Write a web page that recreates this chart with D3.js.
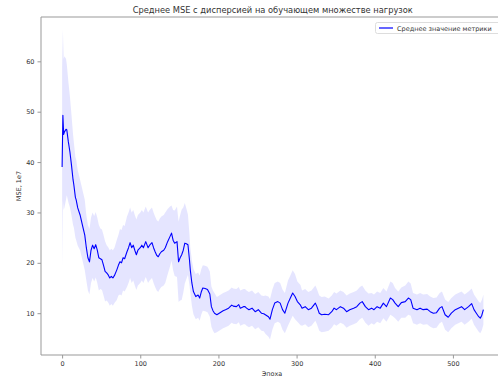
<!DOCTYPE html>
<html>
<head>
<meta charset="utf-8">
<script src="https://cdn.jsdelivr.net/npm/d3@7"></script>
<style>
  body { margin: 0; background: #fff; }
  svg text { font-family: "DejaVu Sans", sans-serif; fill: #333; }
</style>
</head>
<body>
<svg id="chart" width="498" height="381"></svg>
<script>
// epochs sampled along the curve
const epochs = [
  0, 1, 2, 3, 5, 6, 8, 10, 12, 14,
  15, 17, 18, 20, 23, 26, 29, 31, 33, 35,
  37, 39, 41, 43, 45, 47, 49, 51, 53, 55,
  57, 59, 61, 63, 65, 67, 70, 72, 74, 76,
  78, 80, 83, 85, 87, 89, 91, 93, 95, 97,
  100, 102, 104, 107, 110, 112, 115, 117, 119, 121,
  123, 125, 127, 130, 132, 135, 138, 140, 142, 144,
  147, 149, 151, 153, 155, 157, 159, 161, 163, 164,
  166, 168, 171, 174, 176, 178, 180, 183, 186, 189,
  191, 193, 195, 198, 202, 206, 209, 213, 217, 219,
  223, 226, 228, 232, 234, 236, 239, 243, 247, 251,
  255, 258, 260, 264, 266, 269, 272, 276, 279, 282,
  285, 289, 292, 295, 298, 301, 305, 307, 311, 315,
  319, 324, 326, 329, 332, 336, 341, 345, 348, 351,
  356, 360, 364, 368, 373, 377, 381, 384, 388, 392,
  396, 399, 403, 407, 411, 415, 420, 423, 426, 430,
  434, 439, 443, 446, 449, 454, 458, 462, 467, 471,
  475, 479, 483, 486, 490, 494, 498, 503, 507, 511,
  515, 520, 524, 527, 530, 533, 535, 537, 539
];

// mean MSE, 1e7
const meanMse = [
  39, 49.3, 45.5, 46, 46.5, 46.4, 44, 42, 39.4, 36.5,
  35.5, 33, 32.5, 30.9, 29.5, 27.5, 25.5, 23, 21, 20.2,
  22.5, 23.5, 22.8, 23.6, 22.5, 21, 20.8, 20.6, 19.5, 18.3,
  18, 17.6, 17, 17.3, 17, 17.5, 18.6, 19.5, 20.2, 20,
  21, 20.8, 22.2, 23, 24, 23, 23.5, 22.5, 21.6, 22.5,
  23, 23.5, 23, 24.2, 23, 23.5, 24, 23, 22.2, 21.5,
  21.2, 21.8, 22.2, 22.5, 23, 24.2, 25.2, 25.9, 24.5, 23.9,
  24.2, 20.2, 21, 21.6, 22.5, 23.9, 23.8, 23.6, 20.5, 18.6,
  16, 14.3, 13.3, 13.6, 13, 14.2, 15, 14.9, 14.7, 13.8,
  11.3, 10.5, 10, 9.7, 10.1, 10.5, 10.7, 11, 11.6, 11.4,
  11.3, 11.7, 11, 11.3, 11.3, 11, 10.7, 11, 10.3, 10.7,
  10, 9.9, 9.7, 9.3, 8.8, 10.7, 12, 12.3, 12, 10.7,
  10, 12, 13, 14, 13.3, 12.3, 11.6, 11, 11.3, 10.7,
  11, 12, 11.3, 10, 9.7, 9.8, 9.7, 10.3, 11, 10.7,
  11.3, 11, 10.3, 10.7, 11, 11.3, 12, 12.3, 11.3, 10.7,
  11, 10.7, 11.3, 11, 12, 11.3, 13, 12.7, 12, 11.3,
  12.1, 12.3, 13, 12.7, 11, 10.7, 11, 10.7, 10.8, 10.3,
  10, 10.1, 11, 11.3, 9.7, 9.2, 10, 10.7, 11, 11.3,
  10.7, 11.3, 11.9, 10.7, 10, 9.3, 9, 9.6, 10.7
];

// spread (std) around the mean
const stdMse = [
  20, 17, 15, 15, 14, 13, 12, 11, 10, 9,
  8.5, 8, 8, 7.5, 7, 7, 7, 6.5, 6.5, 6.5,
  6.5, 6.5, 6.5, 6.5, 6.5, 6.5, 6, 6, 6, 6,
  5.5, 5.5, 5.5, 5.5, 5.5, 5.5, 6, 6, 6.5, 6.5,
  6.5, 6.5, 7, 7, 7, 7, 7, 7, 7, 7,
  7, 7, 7, 7, 7, 7, 7, 7, 7, 7,
  7, 7, 7, 7, 7, 6.5, 6, 5.5, 6, 6.5,
  7, 8, 8.5, 9, 8.5, 8, 7, 6, 5, 4.5,
  4.5, 4.5, 4.5, 4.5, 4.5, 4.5, 4.5, 4.5, 4.5, 4.5,
  4, 4, 4, 3.5, 3.5, 3.5, 3.5, 3.5, 3.5, 3.5,
  3.5, 3.5, 3.5, 3.5, 3.5, 3.5, 3.5, 3.5, 3.5, 3.5,
  3.5, 3.5, 3.8, 4, 4, 4, 4, 4, 4, 4,
  4, 4.5, 4.5, 4.5, 4.5, 4, 4, 3.5, 3.5, 3.5,
  3.5, 3.5, 3.5, 3.5, 3.5, 3.5, 3.2, 3.2, 3.2, 3.2,
  3.2, 3.2, 3.2, 3.2, 3.2, 3.2, 3.2, 3.2, 3.2, 3.2,
  3, 3, 3, 3, 3, 3, 3.3, 3.3, 3, 3,
  3, 3.2, 3.3, 3.2, 3, 3, 3, 3, 3, 3,
  3, 3, 3, 3, 3, 3, 3, 3, 3, 3,
  3, 3, 3, 3, 3, 3, 3, 3, 3
];

const xTicks = [0, 100, 200, 300, 400, 500];
const yTicks = [10, 20, 30, 40, 50, 60];

const titleText = 'Среднее MSE с дисперсией на обучающем множестве нагрузок';
const legendText = 'Среднее значение метрики';

const svg = d3.select('#chart');
const plot = { left: 41, right: 504.5, top: 17, bottom: 355 };

const x = d3.scaleLinear().domain([-27, 566]).range([plot.left, plot.right]);
const y = d3.scaleLinear().domain([1.7, 68.8]).range([plot.bottom, plot.top]);

const rows = epochs.map((e, i) => ({ e: e, m: meanMse[i], s: stdMse[i] }));

svg.append('clipPath').attr('id', 'clip')
  .append('rect')
  .attr('x', plot.left).attr('y', plot.top)
  .attr('width', plot.right - plot.left).attr('height', plot.bottom - plot.top);

const g = svg.append('g').attr('clip-path', 'url(#clip)');

// band
g.append('path')
  .datum(rows)
  .attr('fill', 'blue')
  .attr('fill-opacity', 0.1)
  .attr('d', d3.area()
    .x(d => x(d.e))
    .y0(d => y(d.m - d.s))
    .y1(d => y(d.m + d.s)));

// mean line
g.append('path')
  .datum(rows)
  .attr('fill', 'none')
  .attr('stroke', 'blue')
  .attr('stroke-width', 1.1)
  .attr('stroke-linejoin', 'round')
  .attr('d', d3.line().x(d => x(d.e)).y(d => y(d.m)));

// axes
const xAxis = svg.append('g')
  .attr('transform', `translate(0,${plot.bottom})`)
  .call(d3.axisBottom(x).tickValues(xTicks).tickSize(3.5).tickPadding(3));
const yAxis = svg.append('g')
  .attr('transform', `translate(${plot.left},0)`)
  .call(d3.axisLeft(y).tickValues(yTicks).tickSize(3.5).tickPadding(3));

[xAxis, yAxis].forEach(a => {
  a.select('.domain').remove();
  a.selectAll('line').attr('stroke', '#999');
  a.selectAll('text').style('font-size', '6.5px').attr('fill', '#333');
});

// spines: left, bottom, top (right one is outside the picture)
svg.append('line').attr('x1', plot.left).attr('x2', plot.left)
  .attr('y1', plot.top).attr('y2', plot.bottom).attr('stroke', '#999');
svg.append('line').attr('x1', plot.left).attr('x2', plot.right)
  .attr('y1', plot.bottom).attr('y2', plot.bottom).attr('stroke', '#999');
svg.append('line').attr('x1', plot.left).attr('x2', plot.right)
  .attr('y1', plot.top).attr('y2', plot.top).attr('stroke', '#999');

// labels
svg.append('text')
  .attr('x', (plot.left + plot.right) / 2).attr('y', 13)
  .attr('text-anchor', 'middle')
  .style('font-size', '8.3px')
  .text(titleText);

svg.append('text')
  .attr('x', 272).attr('y', 376)
  .attr('text-anchor', 'middle')
  .style('font-size', '6.5px')
  .text('Эпоха');

svg.append('text')
  .attr('transform', 'translate(21,186) rotate(-90)')
  .attr('text-anchor', 'middle')
  .style('font-size', '6.5px')
  .text('MSE, 1e7');

// legend
const leg = svg.append('g');
leg.append('rect')
  .attr('x', 375.5).attr('y', 22.5)
  .attr('width', 126).attr('height', 11)
  .attr('rx', 2)
  .attr('fill', '#fff')
  .attr('fill-opacity', 0.8)
  .attr('stroke', '#ddd');
leg.append('line')
  .attr('x1', 379).attr('x2', 393)
  .attr('y1', 28).attr('y2', 28)
  .attr('stroke', 'blue').attr('stroke-width', 1.2);
leg.append('text')
  .attr('x', 397).attr('y', 30.5)
  .style('font-size', '6.5px')
  .attr('fill', '#222')
  .text(legendText);
</script>
</body>
</html>
